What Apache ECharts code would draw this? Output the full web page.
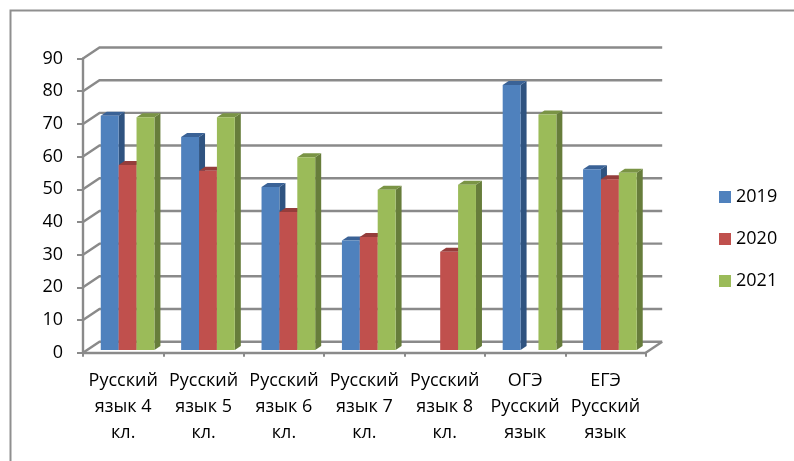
<!DOCTYPE html>
<html><head><meta charset="utf-8">
<style>html,body{margin:0;padding:0;background:#fff}#c{width:794px;height:461px}</style>
<script src="https://cdn.jsdelivr.net/npm/echarts@6/dist/echarts.min.js"></script>
</head><body><div id="c"></div>
<script>
const categories = ['Русский\nязык 4\nкл.','Русский\nязык 5\nкл.','Русский\nязык 6\nкл.','Русский\nязык 7\nкл.','Русский\nязык 8\nкл.','ОГЭ\nРусский\nязык','ЕГЭ\nРусский\nязык'];
const years = ['2019','2020','2021'];
const values2019 = [71.6,65.1,49.8,33.5,null,81,55.3];
const values2020 = [56.6,54.8,42.2,34.5,30,null,52.2];
const values2021 = [71.2,71.2,58.9,49,50.5,72,54.2];
const gridTicks = [0,10,20,30,40,50,60,70,80,90];

const FONT = '"Open Sans"';
const AXIS = '#8a8a8a';
const WALL = [16.5,-11];      // depth of the plot box
const FRONT = [4.4,-2.8];     // where the bars' front plane sits
const DEPTH = [6,-4];         // depth of a bar
const BAR_FRAC = 0.2225;

function pts(a){return a.map(p=>[p[0],p[1]]);}
function face(points,fill){return {type:'polygon',shape:{points:pts(points)},style:{fill:fill,stroke:null}};}

function renderWall(params,api){
  const v = api.value(0);
  const a = api.coord([0,v]);
  const band = api.size([1,0])[0];
  const x0 = a[0]-band/2, y = a[1];
  const x1 = x0+band*categories.length;
  const line = {stroke:AXIS,lineWidth:2.4,fill:null};
  const kids = [{type:'polyline',shape:{points:[[x0,y],[x0+WALL[0],y+WALL[1]],[x1+WALL[0],y+WALL[1]]]},style:line}];
  if(v===0) kids.push({type:'polyline',shape:{points:[[x1,y],[x1+WALL[0],y+WALL[1]]]},style:line});
  return {type:'group',children:kids};
}

function barRenderer(idx,colors){
  return function(params,api){
    const v = api.value(1);
    if(v===null||isNaN(v)) return null;
    const c = api.value(0);
    const band = api.size([1,0])[0];
    const w = band*BAR_FRAC;
    const base = api.coord([c,0]);
    const top = api.coord([c,v]);
    const l = base[0]+FRONT[0]+(idx-1.5)*w;
    const r = l+w;
    const b = base[1]+FRONT[1];
    const t = top[1]+FRONT[1];
    const dx = DEPTH[0], dy = DEPTH[1];
    return {type:'group',children:[
      face([[r,t],[r+dx,t+dy],[r+dx,b+dy],[r,b]],colors[1]),
      face([[l,t],[l+dx,t+dy],[r+dx,t+dy],[r,t]],colors[2]),
      {type:'rect',shape:{x:l,y:t,width:w,height:b-t},style:{fill:colors[0]}}
    ]};
  };
}
const palette = [['#4f81bd','#2f5380','#3a6296'],['#c0504d','#8c3a38','#953d3b'],['#9bbb59','#677d3b','#7a9445']];
const allValues = [values2019,values2020,values2021];

const chart = echarts.init(document.getElementById('c'),null,{renderer:'canvas'});
chart.setOption({
  animation:false,
  backgroundColor:'#fff',
  textStyle:{fontFamily:FONT},
  grid:{left:83,top:58.5,width:562.7,height:294.2},
  xAxis:{type:'category',data:categories,boundaryGap:true,
    axisLine:{lineStyle:{color:AXIS,width:2.4}},
    axisTick:{show:true,length:4,lineStyle:{color:AXIS,width:2},alignWithLabel:false},
    axisLabel:{interval:0,color:'#000',fontSize:18,fontFamily:FONT,lineHeight:26,margin:15}},
  yAxis:{type:'value',min:0,max:90,interval:10,
    axisLine:{show:true,lineStyle:{color:AXIS,width:2.4}},
    axisTick:{show:true,length:6,lineStyle:{color:AXIS,width:2}},
    splitLine:{show:false},
    axisLabel:{color:'#000',fontSize:18,fontFamily:FONT,margin:20}},
  legend:{orient:'vertical',left:714,top:183,icon:'rect',itemWidth:12,itemHeight:12,itemGap:24,
    data:years,textStyle:{fontSize:18,fontFamily:FONT,color:'#000'}},
  graphic:[
    {type:'polyline',silent:true,shape:{points:[[794,10.5],[10.5,10.5],[10.5,461]]},style:{stroke:'#8f8f8f',lineWidth:2,fill:null}}
  ],
  series:[
    {type:'custom',name:'grid',silent:true,clip:false,z:1,data:gridTicks.map(v=>[v]),encode:{y:0},renderItem:renderWall},
    ...years.map((y,i)=>({type:'custom',name:y,clip:false,z:2+i,
      itemStyle:{color:palette[i][0]},
      data:allValues[i].map((v,c)=>[c,v]),encode:{x:0,y:1},renderItem:barRenderer(i,palette[i])}))
  ]
});
</script></body></html>
